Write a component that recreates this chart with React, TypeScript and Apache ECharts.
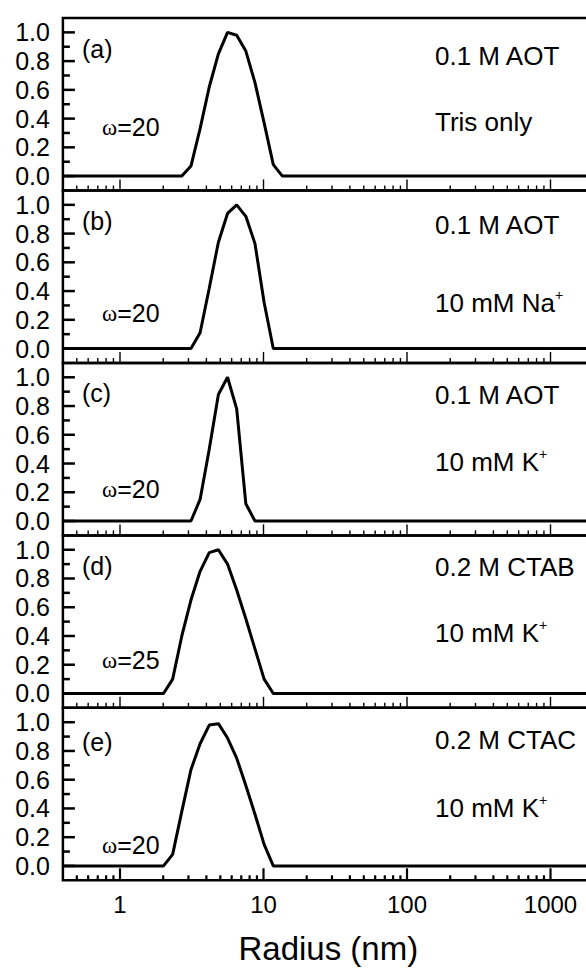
import React, { useEffect, useRef } from 'react';
import * as echarts from 'echarts';

// ---- axis ranges ----
const X_MIN = 0.4;
const X_MAX = 2000;
const Y_MIN = -0.1;
const Y_MAX = 1.1;

// ---- size bins (nm) ----
const RADIUS = [2.01, 2.328, 2.696, 3.122, 3.615, 4.187, 4.849, 5.615, 6.503, 7.531, 8.721, 10.1, 11.7, 13.54, 15.69];

// ---- normalized intensity per panel, aligned with RADIUS ----
const PANEL_A = [0, 0, 0, 0.07, 0.33, 0.62, 0.85, 1.0, 0.98, 0.87, 0.65, 0.37, 0.08, 0, 0];
const PANEL_B = [0, 0, 0, 0, 0.11, 0.42, 0.74, 0.94, 1.0, 0.92, 0.73, 0.32, 0, 0, 0];
const PANEL_C = [0, 0, 0, 0, 0.15, 0.5, 0.88, 1.0, 0.78, 0.12, 0, 0, 0, 0, 0];
const PANEL_D = [0, 0.1, 0.4, 0.65, 0.85, 0.98, 1.0, 0.9, 0.72, 0.52, 0.31, 0.1, 0, 0, 0];
const PANEL_E = [0, 0.08, 0.38, 0.67, 0.85, 0.98, 0.99, 0.89, 0.75, 0.56, 0.36, 0.15, 0, 0, 0];
const PANELS = [PANEL_A, PANEL_B, PANEL_C, PANEL_D, PANEL_E];

// ---- ticks ----
const X_MAJOR_TICKS = [1, 10, 100, 1000];
const X_MINOR_TICKS = [0.5, 0.6, 0.7, 0.8, 0.9, 2, 3, 4, 5, 6, 7, 8, 9, 20, 30, 40, 50, 60, 70, 80, 90, 200, 300, 400, 500, 600, 700, 800, 900];
const Y_MAJOR_TICKS = [0, 0.2, 0.4, 0.6, 0.8, 1.0];
const Y_MINOR_TICKS = [0.1, 0.3, 0.5, 0.7, 0.9];

// ---- texts ----
const LETTERS = ['(a)', '(b)', '(c)', '(d)', '(e)'];
const LINE1 = ['0.1 M AOT', '0.1 M AOT', '0.1 M AOT', '0.2 M CTAB', '0.2 M CTAC'];
const LINE2 = ['Tris only', '10 mM Na', '10 mM K', '10 mM K', '10 mM K'];
const LINE2_SUP = ['', '+', '+', '+', '+'];
const OMEGA = ['20', '20', '20', '25', '20'];
const X_NAME = 'Radius (nm)';

// ---- layout (pixels) ----
const FONT = '"Liberation Sans", Arial, sans-serif';
const SERIF = '"Liberation Serif", "Times New Roman", serif';
const GRID_LEFT = 62.9;
const GRID_TOP = 18;
const PANEL_H = 172.46;
const GRID_W = 530.8;
const LETTER_X = 82;
const LETTER_Y = [49, 221, 393, 566, 742];
const COND_X = 435;
const LINE1_Y = [56, 225, 395, 567, 740];
const LINE2_Y = [122, 303, 462, 633, 808];
const OMEGA_X = 102;
const OMEGA_Y = [127, 313, 489, 660, 845];

export default function App() {
  const ref = useRef<HTMLDivElement>(null);

  useEffect(() => {
    if (!ref.current) return;
    const chart = echarts.init(ref.current, undefined, { renderer: 'svg' });
    const n = PANELS.length;

    const grids = PANELS.map((_, i) => ({
      left: GRID_LEFT,
      top: GRID_TOP + i * PANEL_H,
      width: GRID_W,
      height: PANEL_H,
      show: true,
      borderColor: '#000',
      borderWidth: 2.5,
      backgroundColor: 'transparent',
    }));

    const xAxes = PANELS.map((_, i) => ({
      type: 'log',
      logBase: 10,
      gridIndex: i,
      min: X_MIN,
      max: X_MAX,
      axisLine: { show: false },
      axisTick: { show: false },
      splitLine: { show: false },
      axisLabel: {
        show: i === n - 1,
        color: '#000',
        fontFamily: FONT,
        fontSize: 24,
        margin: 12,
        showMinLabel: false,
        showMaxLabel: false,
        formatter: (v: number) => String(Math.round(v)),
      },
      name: i === n - 1 ? X_NAME : '',
      nameLocation: 'middle',
      nameGap: 52,
      nameTextStyle: { color: '#000', fontFamily: FONT, fontSize: 33 },
    }));

    const yAxes = PANELS.map((_, i) => ({
      type: 'value',
      gridIndex: i,
      min: Y_MIN,
      max: Y_MAX,
      interval: 0.1,
      axisLine: { show: false },
      axisTick: { show: false },
      splitLine: { show: false },
      axisLabel: {
        color: '#000',
        fontFamily: FONT,
        fontSize: 25,
        margin: 13,
        formatter: (v: number) => {
          const k = Math.round(v * 10);
          if (k < 0 || k > 10 || k % 2 !== 0) return '';
          return (k / 10).toFixed(1);
        },
      },
    }));

    const tickData = [
      ...X_MAJOR_TICKS.map((v) => [v, Y_MIN, 0]),
      ...X_MINOR_TICKS.map((v) => [v, Y_MIN, 1]),
      ...Y_MAJOR_TICKS.map((v) => [X_MIN, v, 2]),
      ...Y_MINOR_TICKS.map((v) => [X_MIN, v, 3]),
    ];

    const series: any[] = [];
    PANELS.forEach((vals, i) => {
      const xw = i === n - 1 ? 2.2 : 1.4;
      series.push({
        type: 'custom',
        xAxisIndex: i,
        yAxisIndex: i,
        dimensions: ['x', 'y', 'kind'],
        encode: { x: 0, y: 1 },
        data: tickData,
        silent: true,
        renderItem: (_p: any, api: any) => {
          const kind = api.value(2);
          const p = api.coord([api.value(0), api.value(1)]);
          let shape;
          let lw;
          if (kind === 0 || kind === 1) {
            const len = kind === 0 ? (i === n - 1 ? 12 : 11) : 5;
            shape = { x1: p[0], y1: p[1], x2: p[0], y2: p[1] - len };
            lw = xw;
          } else {
            const len = kind === 2 ? 12 : 7;
            shape = { x1: p[0], y1: p[1], x2: p[0] + len, y2: p[1] };
            lw = 2.5;
          }
          return { type: 'line', shape, style: { stroke: '#000', lineWidth: lw } };
        },
      });
      const data = [[X_MIN, 0], ...RADIUS.map((r, k) => [r, vals[k]]), [X_MAX, 0]];
      series.push({
        type: 'line',
        xAxisIndex: i,
        yAxisIndex: i,
        data,
        symbol: 'none',
        lineStyle: { color: '#000', width: 3 },
        z: 3,
      });
    });

    const graphics: any[] = [];
    PANELS.forEach((_, i) => {
      graphics.push({
        type: 'text',
        x: LETTER_X,
        y: LETTER_Y[i],
        style: { text: LETTERS[i], font: `25px ${FONT}`, fill: '#000', verticalAlign: 'middle' },
      });
      graphics.push({
        type: 'text',
        x: COND_X,
        y: LINE1_Y[i],
        style: { text: LINE1[i], font: `26px ${FONT}`, fill: '#000', verticalAlign: 'middle' },
      });
      const sup = LINE2_SUP[i];
      graphics.push({
        type: 'text',
        x: COND_X,
        y: LINE2_Y[i],
        style: {
          text: sup ? `{m|${LINE2[i]}}{s|${sup}}` : `{m|${LINE2[i]}}`,
          fill: '#000',
          verticalAlign: 'middle',
          rich: {
            m: { fontSize: 26, fontFamily: FONT, fill: '#000', lineHeight: 30 },
            s: { fontSize: 14, fontFamily: FONT, fill: '#000', verticalAlign: 'top', lineHeight: 18 },
          },
        },
      });
      graphics.push({
        type: 'text',
        x: OMEGA_X,
        y: OMEGA_Y[i],
        style: {
          text: `{w|ω}{m|=${OMEGA[i]}}`,
          fill: '#000',
          verticalAlign: 'middle',
          rich: {
            w: { fontSize: 23, fontFamily: SERIF, fill: '#000' },
            m: { fontSize: 25, fontFamily: FONT, fill: '#000' },
          },
        },
      });
    });

    chart.setOption({
      animation: false,
      backgroundColor: '#fff',
      grid: grids,
      xAxis: xAxes,
      yAxis: yAxes,
      series,
      graphic: graphics,
    });

    return () => chart.dispose();
  }, []);

  return (
    <div style={{ position: 'fixed', left: 0, top: 0, width: 586, height: 972, overflow: 'hidden', background: '#fff' }}>
      <div ref={ref} style={{ width: 620, height: 972 }} />
    </div>
  );
}
